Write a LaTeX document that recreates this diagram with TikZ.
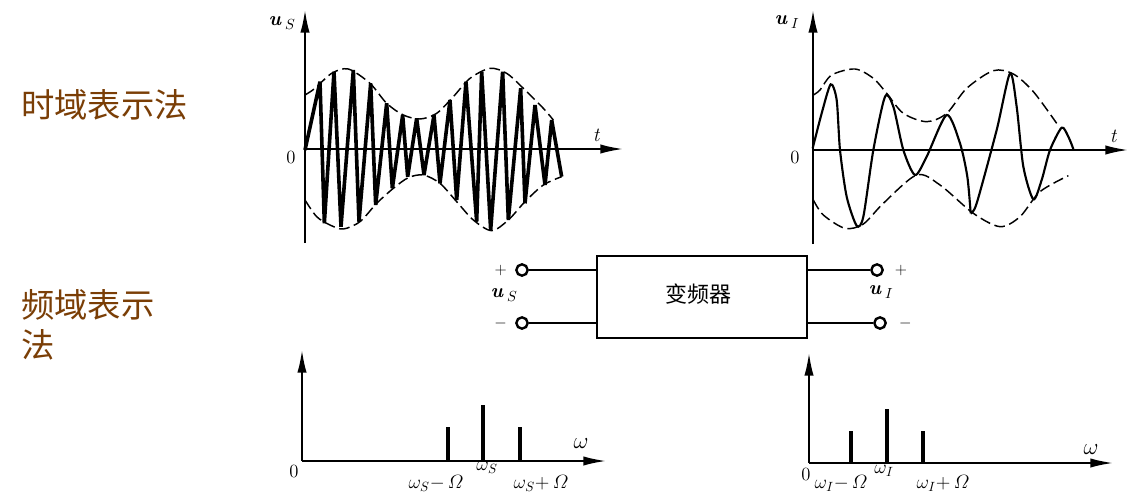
\documentclass[tikz,border=0pt]{standalone}
\usepackage{fontspec}
\usepackage{amsmath}
\usetikzlibrary{arrows.meta, positioning}
\newfontfamily\cjk{Noto Sans CJK SC}
\definecolor{labelbrown}{HTML}{7A3E06}
\newcommand{\varu}{{\bfseries\itshape u}}
\begin{document}
\begin{tikzpicture}[
        x=0.75pt, y=-0.75pt,
        axis/.style={-{Latex[length=17pt, width=7pt]}, line width=1.4pt},
        envelope/.style={line width=1.1pt, dash pattern=on 8pt off 3.5pt, smooth},
        zigzag/.style={line width=2.7pt, line join=miter, miter limit=3},
        wave/.style={line width=1.6pt, smooth, tension=0.45},
        bar/.style={line width=2.6pt},
        wire/.style={line width=1.2pt},
        term/.style={circle, draw, line width=1.8pt, fill=white, inner sep=0pt, minimum size=8.5pt},
        sign/.style={inner sep=0pt, font=\fontsize{13}{15}\selectfont},
        lab/.style={inner sep=0pt, font=\fontsize{14}{16}\selectfont},
        biglab/.style={inner sep=0pt, font=\fontsize{19}{21}\selectfont},
        varlab/.style={inner sep=0pt, font=\fontsize{15}{17}\selectfont},
        title/.style={inner sep=0pt, anchor=west, text=labelbrown, font=\fontsize{25}{30}\selectfont\cjk, align=left}
    ]
    \useasboundingbox (0,0) rectangle (1131,493);

    % titles
    \node[title] (timetitle) at (21,105) {时域表示法};
    \node[title] (freqtitle) at (21,325) {频域表示\\法};

    % time domain, left
    \coordinate (o1) at (305,149);
    \coordinate (y1) at (305,10);
    \coordinate (b1) at (305,243);
    \coordinate (x1) at (623,149);
    \begin{scope}[shift={(260,0)}, x=0.25pt, y=-0.25pt]
        \draw[envelope] plot coordinates {(135,285) (165,265) (215,220) (265,207) (330,250) (380,310) (430,345) (480,357) (530,340) (580,290) (630,235) (690,205) (740,220) (790,265) (850,325) (880,360)};
        \draw[envelope] plot coordinates {(135,600) (170,650) (210,675) (250,687) (300,665) (350,610) (400,565) (445,533) (490,525) (540,550) (590,605) (640,660) (695,692) (745,660) (795,605) (850,555) (905,530)};
        \draw[zigzag] (135,450) -- (180,245) -- (193,670) -- (222,215) -- (243,680) -- (280,210) -- (297,665) -- (332,250) -- (347,615) -- (380,310) -- (397,565) -- (428,345) -- (443,530) -- (470,355) -- (492,525) -- (522,345) -- (540,550) -- (570,300) -- (590,600) -- (618,245) -- (650,665) -- (665,215) -- (692,690) -- (728,215) -- (745,660) -- (782,265) -- (795,610) -- (825,315) -- (855,555) -- (875,360) -- (905,530);
    \end{scope}
    \draw[axis] (b1) -- (y1);
    \draw[axis] (o1) -- (x1);
    \node[lab] (zero1) at (291,157) {0};
    \node[varlab] (t1) at (596,135) {\itshape t};
    \node[varlab] (us1) at (282,23) {\varu$_{\;S}$};

    % time domain, right
    \coordinate (o2) at (813,150);
    \coordinate (y2) at (813,10);
    \coordinate (b2) at (813,244);
    \coordinate (x2) at (1128,150);
    \begin{scope}[shift={(760,0)}, x=0.25pt, y=-0.25pt]
        \draw[envelope] plot coordinates {(160,285) (180,270) (215,225) (285,207) (340,235) (380,280) (430,340) (500,365) (560,340) (620,265) (700,212) (760,222) (820,275) (890,370)};
        \draw[envelope] plot coordinates {(160,600) (190,645) (255,685) (310,672) (370,610) (470,525) (540,555) (640,640) (720,680) (780,650) (840,575) (925,527)};
        \draw[wave] plot coordinates {(158,445) (185,340) (212,253) (230,300) (240,450) (260,590) (290,677) (310,650) (340,450) (375,290) (400,320) (430,450) (465,525) (500,470) (560,345) (600,430) (622,530) (632,640)};
        \draw[wave] plot coordinates {(632,640) (650,610) (710,390) (750,220) (770,320) (790,500) (820,598) (845,540) (870,450) (905,383) (925,410) (940,447)};
    \end{scope}
    \draw[axis] (b2) -- (y2);
    \draw[axis] (o2) -- (x2);
    \node[lab] (zero2) at (795,157) {0};
    \node[varlab] (t2) at (1113,136) {\itshape t};
    \node[varlab] (uo1) at (787,22) {\varu$_{\;I}$};

    % mixer block
    \node[draw, line width=1.6pt, minimum width=157pt, minimum height=62pt, inner sep=0pt] (mixer) at (702,297) {};
    \node[inner sep=0pt, font=\fontsize{16.5}{18}\selectfont\cjk] (mixertext) at (698,294) {变频器};
    \node[term] (sp) at (522,270) {};
    \node[term] (sm) at (522,323) {};
    \node[term] (op) at (877,270) {};
    \node[term] (om) at (880,323) {};
    \draw[wire] (sp) -- (sp -| mixer.west);
    \draw[wire] (sm) -- (sm -| mixer.west);
    \draw[wire] (op) -- (op -| mixer.east);
    \draw[wire] (om) -- (om -| mixer.east);
    \node[sign, left=6pt of sp] (spl) {$+$};
    \node[sign, left=6pt of sm] (sml) {$-$};
    \node[sign, right=8pt of op] (opl) {$+$};
    \node[sign, right=9pt of om] (oml) {$-$};
    \node[varlab] (us2) at (504,295) {\varu$_{\;S}$};
    \node[varlab] (uo2) at (881,292) {\varu$_{\;I}$};

    % spectrum, left
    \coordinate (o3) at (302,461);
    \coordinate (y3) at (302,350);
    \coordinate (x3) at (606,461);
    \coordinate (l1) at (448,427);
    \coordinate (c1) at (483,405);
    \coordinate (r1) at (520,427);
    \foreach \a in {l1,c1,r1} \draw[bar] (\a) -- (\a |- o3);
    \draw[axis] (o3) -- (y3);
    \draw[axis] (o3) -- (x3);
    \node[lab] (zero3) at (294,471) {0};
    \node[biglab] (w1) at (581,444) {$\omega$};
    \node[lab] (ws) at (487,468) {$\omega_S$};
    \node[lab] (wsm) at (436,483) {$\omega_S{-}\,\varOmega$};
    \node[lab] (wsp) at (541,483) {$\omega_S{+}\,\varOmega$};

    % spectrum, right
    \coordinate (o4) at (809,463);
    \coordinate (y4) at (809,353);
    \coordinate (x4) at (1113,463);
    \coordinate (l2) at (851,431);
    \coordinate (c2) at (887,409);
    \coordinate (r2) at (923,431);
    \foreach \a in {l2,c2,r2} \draw[bar] (\a) -- (\a |- o4);
    \draw[axis] (o4) -- (y4);
    \draw[axis] (o4) -- (x4);
    \node[lab] (zero4) at (806,474) {0};
    \node[biglab] (w2) at (1091,450) {$\omega$};
    \node[lab] (wi) at (884,471) {$\omega_I$};
    \node[lab] (wim) at (841,483) {$\omega_I{-}\,\varOmega$};
    \node[lab] (wip) at (943,483) {$\omega_I{+}\,\varOmega$};
\end{tikzpicture}
\end{document}
